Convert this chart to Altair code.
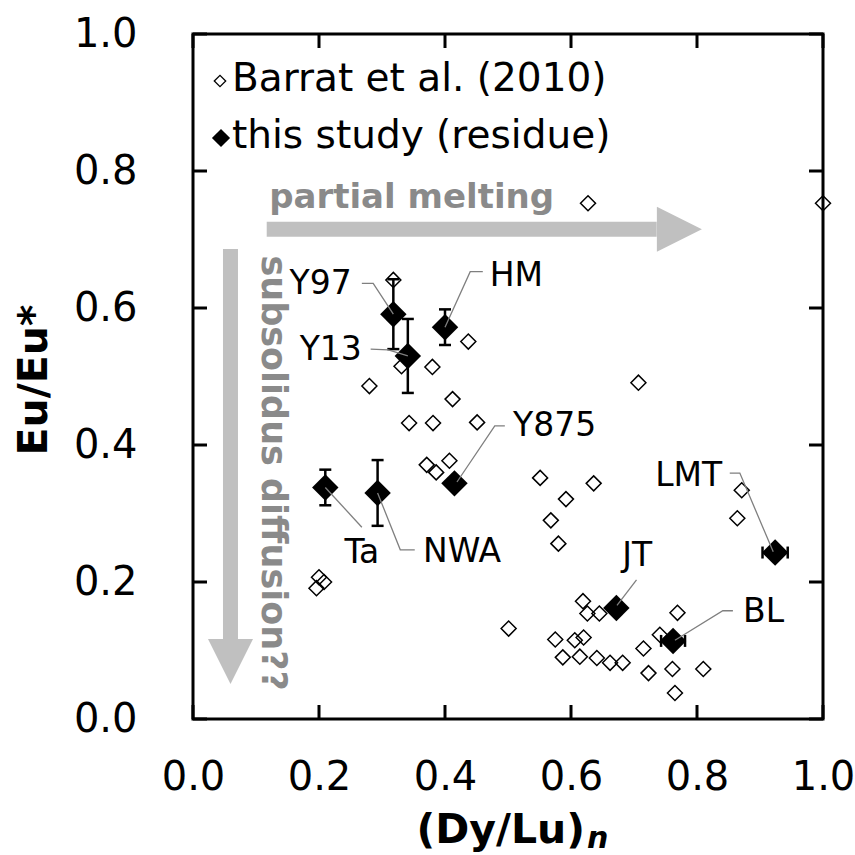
import altair as alt
import pandas as pd

# ---------------- data ----------------
# Barrat et al. (2010) -- open diamonds
barrat_x = [0.627, 1.000, 0.318, 0.437, 0.280, 0.331, 0.380, 0.707, 0.412, 0.343,
            0.381, 0.451, 0.371, 0.386, 0.407, 0.551, 0.636, 0.592, 0.568, 0.580,
            0.871, 0.864, 0.200, 0.196, 0.208, 0.501, 0.575, 0.587, 0.606, 0.620,
            0.614, 0.641, 0.662, 0.682, 0.619, 0.626, 0.645, 0.715, 0.723, 0.741,
            0.769, 0.761, 0.765, 0.810]
barrat_y = [0.753, 0.753, 0.641, 0.551, 0.486, 0.515, 0.514, 0.491, 0.467, 0.432,
            0.432, 0.433, 0.371, 0.360, 0.377, 0.352, 0.344, 0.321, 0.290, 0.256,
            0.334, 0.293, 0.207, 0.191, 0.200, 0.132, 0.116, 0.090, 0.115, 0.119,
            0.091, 0.089, 0.082, 0.082, 0.172, 0.154, 0.154, 0.103, 0.067, 0.123,
            0.155, 0.073, 0.038, 0.073]

# this study (residue) -- filled diamonds
study_names = ["Y97", "Y13", "HM", "Ta", "NWA", "Y875", "JT", "BL", "LMT"]
study_x = [0.318, 0.341, 0.400, 0.210, 0.293, 0.415, 0.672, 0.762, 0.924]
study_y = [0.591, 0.530, 0.572, 0.338, 0.330, 0.344, 0.162, 0.114, 0.243]
study_yerr = [0.051, 0.054, 0.026, 0.026, 0.048, 0.0, 0.0, 0.0, 0.0]
study_xerr = [0.0, 0.0, 0.0, 0.0, 0.0, 0.0, 0.0, 0.019, 0.020]

# sample labels (data coordinates) and alignment
label_x = [0.252, 0.268, 0.471, 0.268, 0.365, 0.508, 0.705, 0.873, 0.840]
label_y = [0.635, 0.539, 0.647, 0.242, 0.244, 0.428, 0.238, 0.156, 0.355]
label_align = ["right", "right", "left", "center", "left", "left", "center", "left", "right"]

# leader lines (data coordinates)
leader_name = ["Y97"] * 3 + ["Y13"] * 3 + ["HM"] * 3 + ["Y875"] * 3 + ["Ta"] * 2 + \
              ["NWA"] * 3 + ["JT"] * 2 + ["BL"] * 3 + ["LMT"] * 3
leader_x = [0.268, 0.286, 0.318, 0.282, 0.310, 0.341, 0.460, 0.440, 0.400,
            0.495, 0.479, 0.419, 0.210, 0.268, 0.293, 0.329, 0.352, 0.704, 0.673,
            0.857, 0.841, 0.765, 0.852, 0.868, 0.921]
leader_y = [0.636, 0.636, 0.591, 0.540, 0.539, 0.530, 0.653, 0.653, 0.572,
            0.428, 0.428, 0.346, 0.338, 0.280, 0.330, 0.247, 0.247, 0.203, 0.166,
            0.158, 0.158, 0.115, 0.359, 0.359, 0.244]

tick_values = [0.0, 0.2, 0.4, 0.6, 0.8, 1.0]
legend_labels = ["Barrat et al. (2010)", "this study (residue)"]

# ---------------- layout ----------------
W, H = 630, 685
FONT = "DejaVu Sans"
TL = 14
GRAY_ARROW = "#c0c0c0"
GRAY_TEXT = "#8a8a8a"

xs = alt.Scale(domain=[0, 1], nice=False, zero=False)
ys = alt.Scale(domain=[0, 1], nice=False, zero=False)

axX = alt.Axis(values=tick_values, format=".1f", ticks=False, tickSize=0, domain=False, grid=False,
               title=None, labelFont=FONT, labelFontSize=40, labelPadding=38, labelFlush=False,
               labelColor="black", labelOverlap=False)
axY = alt.Axis(values=tick_values, format=".1f", ticks=False, tickSize=0, domain=False, grid=False,
               title=None, labelFont=FONT, labelFontSize=40, labelPadding=56, labelFlush=False,
               labelColor="black", labelOverlap=False)

barrat = pd.DataFrame({"x": barrat_x, "y": barrat_y})
study = pd.DataFrame({"name": study_names, "x": study_x, "y": study_y,
                      "yerr": study_yerr, "xerr": study_xerr})
study["ylo"] = study["y"] - study["yerr"]
study["yhi"] = study["y"] + study["yerr"]
study["xlo"] = study["x"] - study["xerr"]
study["xhi"] = study["x"] + study["xerr"]
ystudy = study[study["yerr"] > 0]
xstudy = study[study["xerr"] > 0]

labels = pd.DataFrame({"name": study_names, "x": label_x, "y": label_y, "align": label_align})
leaders = pd.DataFrame({"name": leader_name, "x": leader_x, "y": leader_y})
leaders["order"] = range(len(leaders))
ticks = pd.DataFrame({"v": tick_values})


def X(f):
    return alt.X(f, type="quantitative", scale=xs, axis=axX)


def Y(f):
    return alt.Y(f, type="quantitative", scale=ys, axis=axY)


# arrows
hshaft = alt.Chart(pd.DataFrame({"x": [0.117], "x2": [0.736], "y": [0.715]})).mark_rule(
    color=GRAY_ARROW, strokeWidth=15, strokeCap="butt").encode(x=X("x"), x2="x2", y=Y("y"))
hhead = alt.Chart(pd.DataFrame({"x": [0.772], "y": [0.715]})).mark_point(
    shape="M-1,-1L1,0L-1,1Z", size=2025, filled=True, color=GRAY_ARROW, opacity=1).encode(x=X("x"), y=Y("y"))
vshaft = alt.Chart(pd.DataFrame({"x": [0.0595], "y": [0.686], "y2": [0.115]})).mark_rule(
    color=GRAY_ARROW, strokeWidth=15, strokeCap="butt").encode(x=X("x"), y=Y("y"), y2="y2")
vhead = alt.Chart(pd.DataFrame({"x": [0.0595], "y": [0.084]})).mark_point(
    shape="M-1,-1L1,-1L0,1Z", size=2025, filled=True, color=GRAY_ARROW, opacity=1).encode(x=X("x"), y=Y("y"))

ptext = alt.Chart(pd.DataFrame({"x": [0.347], "y": [0.746], "t": ["partial melting"]})).mark_text(
    font=FONT, fontSize=34, fontWeight="bold", color=GRAY_TEXT, align="center", baseline="alphabetic"
).encode(x=X("x"), y=Y("y"), text="t:N")
stext = alt.Chart(pd.DataFrame({"x": [0.127], "y": [0.359], "t": ["subsolidus diffusion??"]})).mark_text(
    font=FONT, fontSize=35, fontWeight="bold", color=GRAY_TEXT, align="center", baseline="middle", angle=90
).encode(x=X("x"), y=Y("y"), text="t:N")

# Barrat points
bpts = alt.Chart(barrat).mark_point(shape="diamond", size=225, filled=False, color="black",
                                    strokeWidth=1.5, opacity=1).encode(x=X("x"), y=Y("y"))

# error bars
ybar = alt.Chart(ystudy).mark_rule(color="black", strokeWidth=2.5).encode(x=X("x"), y=Y("ylo"), y2="yhi")
ycap_lo = alt.Chart(ystudy).mark_rule(color="black", strokeWidth=2.5, xOffset=-6, x2Offset=6).encode(
    x=X("x"), x2="x", y=Y("ylo"))
ycap_hi = alt.Chart(ystudy).mark_rule(color="black", strokeWidth=2.5, xOffset=-6, x2Offset=6).encode(
    x=X("x"), x2="x", y=Y("yhi"))
xbar = alt.Chart(xstudy).mark_rule(color="black", strokeWidth=2.5).encode(x=X("xlo"), x2="xhi", y=Y("y"))
xcap_lo = alt.Chart(xstudy).mark_rule(color="black", strokeWidth=2.5, yOffset=-6, y2Offset=6).encode(
    y=Y("y"), y2="y", x=X("xlo"))
xcap_hi = alt.Chart(xstudy).mark_rule(color="black", strokeWidth=2.5, yOffset=-6, y2Offset=6).encode(
    y=Y("y"), y2="y", x=X("xhi"))

spts = alt.Chart(study).mark_point(shape="diamond", size=700, filled=True, color="black",
                                   opacity=1).encode(x=X("x"), y=Y("y"))

lead = alt.Chart(leaders).mark_line(color="#7f7f7f", strokeWidth=1.3).encode(
    x=X("x"), y=Y("y"), detail="name:N", order="order:Q")

lab_layers = []
for a in ["left", "right", "center"]:
    lab_layers.append(
        alt.Chart(labels[labels["align"] == a]).mark_text(
            font=FONT, fontSize=33, color="black", align=a, baseline="middle"
        ).encode(x=X("x"), y=Y("y"), text="name:N")
    )

# legend
leg1m = alt.Chart(pd.DataFrame({"t": [legend_labels[0]]})).mark_point(
    shape="diamond", size=130, filled=False, color="black", strokeWidth=1.3, opacity=1
).encode(x=alt.value(27), y=alt.value(47))
leg2m = alt.Chart(pd.DataFrame({"t": [legend_labels[1]]})).mark_point(
    shape="diamond", size=330, filled=True, color="black", opacity=1
).encode(x=alt.value(28), y=alt.value(104))
leg1t = alt.Chart(pd.DataFrame({"t": [legend_labels[0]]})).mark_text(
    font=FONT, fontSize=39, color="black", align="left", baseline="middle"
).encode(x=alt.value(39), y=alt.value(45), text="t:N")
leg2t = alt.Chart(pd.DataFrame({"t": [legend_labels[1]]})).mark_text(
    font=FONT, fontSize=39, color="black", align="left", baseline="middle"
).encode(x=alt.value(39), y=alt.value(102), text="t:N")

# inward ticks on all four sides
tk_left = alt.Chart(ticks).mark_rule(color="black", strokeWidth=3).encode(
    y=Y("v"), x=alt.value(0), x2=alt.value(TL))
tk_right = alt.Chart(ticks).mark_rule(color="black", strokeWidth=3).encode(
    y=Y("v"), x=alt.value(W - TL), x2=alt.value(W))
tk_bottom = alt.Chart(ticks).mark_rule(color="black", strokeWidth=3).encode(
    x=X("v"), y=alt.value(H - TL), y2=alt.value(H))
tk_top = alt.Chart(ticks).mark_rule(color="black", strokeWidth=3).encode(
    x=X("v"), y=alt.value(0), y2=alt.value(TL))

# axis titles
xt1 = alt.Chart(pd.DataFrame({"t": ["(Dy/Lu)"]})).mark_text(
    font=FONT, fontSize=41, fontWeight="bold", color="black", align="right", baseline="alphabetic"
).encode(x=alt.value(392), y=alt.value(809), text="t:N")
xt2 = alt.Chart(pd.DataFrame({"t": ["n"]})).mark_text(
    font=FONT, fontSize=30, fontWeight="bold", fontStyle="italic", color="black", align="left",
    baseline="alphabetic"
).encode(x=alt.value(394), y=alt.value(814), text="t:N")
yt = alt.Chart(pd.DataFrame({"t": ["Eu/Eu*"]})).mark_text(
    font=FONT, fontSize=41, fontWeight="bold", color="black", align="center", baseline="middle", angle=270
).encode(x=alt.value(-158), y=alt.value(346), text="t:N")

chart = alt.layer(
    hshaft, hhead, vshaft, vhead, ptext, stext, bpts,
    ybar, ycap_lo, ycap_hi, xbar, xcap_lo, xcap_hi, spts, lead, *lab_layers,
    leg1m, leg2m, leg1t, leg2t, tk_left, tk_right, tk_bottom, tk_top, xt1, xt2, yt
).properties(
    width=W, height=H,
    autosize=alt.AutoSizeParams(type="none"),
    padding={"left": 193, "top": 34, "right": 32, "bottom": 136},
    background="white",
).configure_view(stroke="black", strokeWidth=3)

chart.save("out.html", embed_options={"renderer": "svg", "actions": False})
